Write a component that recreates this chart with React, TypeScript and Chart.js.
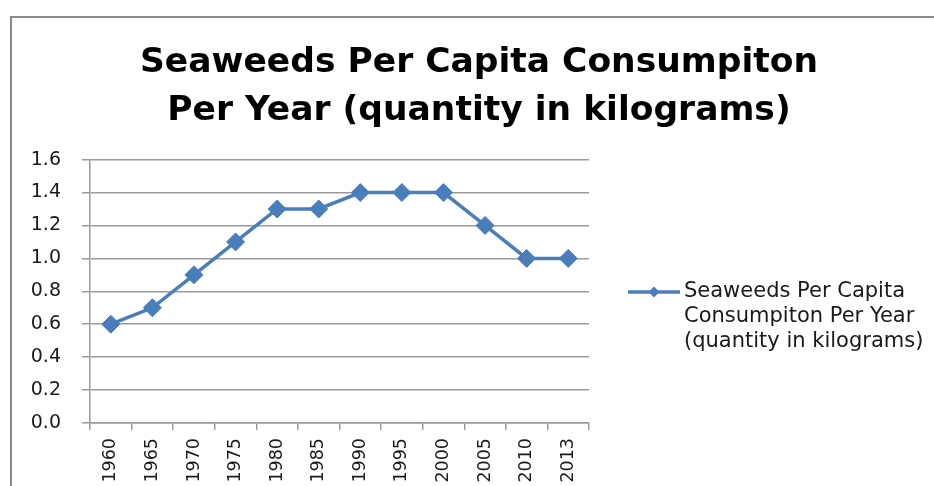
import React, { useEffect, useRef } from "react";
import { Chart, registerables } from "chart.js";

Chart.register(...registerables);

const years = ["1960", "1965", "1970", "1975", "1980", "1985", "1990", "1995", "2000", "2005", "2010", "2013"];
const consumption = [0.6, 0.7, 0.9, 1.1, 1.3, 1.3, 1.4, 1.4, 1.4, 1.2, 1.0, 1.0];
const titleLines = ["Seaweeds Per Capita Consumpiton", "Per Year (quantity in kilograms)"];
const legendLines = ["Seaweeds Per Capita", "Consumpiton Per Year", "(quantity in kilograms)"];

const LINE = "#4A7EBB";
const GRID = "#9a9a9a";
const TICK_FONT = "'DejaVu Sans', sans-serif";

const framePlugin = {
  id: "frame",
  beforeDraw(chart: any) {
    const ctx = chart.ctx;
    ctx.save();
    ctx.fillStyle = "#ffffff";
    ctx.fillRect(0, 0, chart.width, chart.height);
    ctx.strokeStyle = "#8a8a8a";
    ctx.lineWidth = 2;
    ctx.beginPath();
    ctx.moveTo(11, chart.height);
    ctx.lineTo(11, 17);
    ctx.lineTo(chart.width, 17);
    ctx.stroke();
    ctx.restore();
  },
};

const legendPlugin = {
  id: "sideLegend",
  afterDraw(chart: any) {
    const ctx = chart.ctx;
    const area = chart.chartArea;
    const x0 = area.right + 39;
    const y0 = 292;
    ctx.save();
    ctx.strokeStyle = LINE;
    ctx.lineWidth = 3.5;
    ctx.beginPath();
    ctx.moveTo(x0, y0);
    ctx.lineTo(x0 + 52, y0);
    ctx.stroke();
    ctx.fillStyle = LINE;
    const cx = x0 + 26;
    const r = 5.5;
    ctx.beginPath();
    ctx.moveTo(cx, y0 - r);
    ctx.lineTo(cx + r, y0);
    ctx.lineTo(cx, y0 + r);
    ctx.lineTo(cx - r, y0);
    ctx.closePath();
    ctx.fill();
    ctx.fillStyle = "#1a1a1a";
    ctx.font = `21px ${TICK_FONT}`;
    ctx.textBaseline = "middle";
    ctx.textAlign = "left";
    legendLines.forEach((t, i) => ctx.fillText(t, x0 + 56, y0 + i * 25));
    ctx.restore();
  },
};

export default function App() {
  const ref = useRef<HTMLCanvasElement | null>(null);

  useEffect(() => {
    if (!ref.current) return;
    const chart = new Chart(ref.current, {
      type: "line",
      data: {
        labels: years,
        datasets: [
          {
            label: legendLines.join(" "),
            data: consumption,
            borderColor: LINE,
            backgroundColor: LINE,
            borderWidth: 3.5,
            pointStyle: "rectRot",
            pointRadius: 9,
            pointBackgroundColor: LINE,
            pointBorderColor: LINE,
            pointBorderWidth: 1,
            tension: 0,
            yAxisID: "y",
          },
        ],
      },
      options: {
        responsive: false,
        animation: false,
        layout: { padding: { left: 24, right: 0, top: 0, bottom: 0 } },
        plugins: {
          legend: { display: false },
          tooltip: { enabled: false },
          title: {
            display: true,
            text: titleLines,
            color: "#000000",
            font: { family: "'DejaVu Sans', sans-serif", size: 34.5, weight: "bold", lineHeight: 1.4 },
            padding: { top: 39, bottom: 24 },
          },
        },
        scales: {
          x: {
            offset: true,
            grid: {
              offset: true,
              drawOnChartArea: false,
              drawTicks: true,
              tickLength: 7,
              color: GRID,
              lineWidth: 1.5,
            },
            border: { display: true, color: GRID, width: 1.5 },
            ticks: {
              color: "#1a1a1a",
              font: { family: TICK_FONT, size: 17.5 },
              minRotation: 90,
              maxRotation: 90,
              padding: 8,
              autoSkip: false,
            },
            afterFit: (s: any) => {
              s.height = 63;
            },
          },
          y: {
            min: 0,
            max: 1.6,
            position: "left",
            grid: { color: GRID, lineWidth: 1.5, tickLength: 8, drawTicks: true },
            border: { display: true, color: GRID, width: 1.5 },
            ticks: {
              stepSize: 0.2,
              color: "#1a1a1a",
              font: { family: TICK_FONT, size: 19 },
              padding: 21,
              callback: (v: any) => Number(v).toFixed(1),
            },
            afterFit: (s: any) => {
              s.width = 66;
            },
          },
          yR: {
            type: "linear",
            position: "right",
            display: true,
            grid: { display: false, drawTicks: false },
            border: { display: false },
            ticks: { display: false },
            afterFit: (s: any) => {
              s.width = 345;
            },
          },
        },
      },
      plugins: [framePlugin, legendPlugin],
    });
    return () => chart.destroy();
  }, []);

  return (
    <div style={{ position: "fixed", left: 0, top: 0, width: 934, height: 486, background: "#fff" }}>
      <canvas ref={ref} width={934} height={486} style={{ display: "block", width: 934, height: 486 }} />
    </div>
  );
}
